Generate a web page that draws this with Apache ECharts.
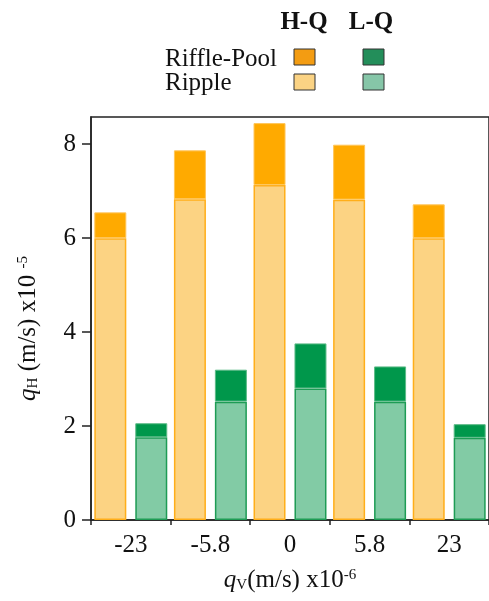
<!DOCTYPE html>
<html>
<head>
<meta charset="utf-8">
<script src="https://cdn.jsdelivr.net/npm/echarts@6/dist/echarts.min.js"></script>
<style>
  html, body { margin: 0; padding: 0; background: #fff; }
  #chart { width: 489px; height: 601px; }
</style>
</head>
<body>
<div id="chart"></div>
<script>
// values (x 1e-5 m/s)
var categories = ['-23', '-5.8', '0', '5.8', '23'];
var hqRipple = [6.0, 6.83, 7.13, 6.82, 6.0];
var hqRifflePool = [6.55, 7.87, 8.45, 7.99, 6.72];
var lqRipple = [1.76, 2.52, 2.80, 2.52, 1.75];
var lqRifflePool = [2.06, 3.2, 3.76, 3.27, 2.04];
var yTicks = [0, 2, 4, 6, 8];

var FONT = '"Liberation Serif", "DejaVu Serif", serif';

// the darker part on top of each bar is what riffle-pool adds over ripple
var hqExtra = hqRifflePool.map(function (v, i) { return +(v - hqRipple[i]).toFixed(3); });
var lqExtra = lqRifflePool.map(function (v, i) { return +(v - lqRipple[i]).toFixed(3); });

var chart = echarts.init(document.getElementById('chart'));

var legendBox = function (x, y, color) {
  return {
    type: 'rect',
    shape: { x: x, y: y, width: 21, height: 16 },
    style: { fill: color, stroke: '#333', lineWidth: 1 }
  };
};
var legendText = function (x, y, text, bold, align) {
  return {
    type: 'text',
    x: x, y: y,
    style: {
      text: text, fill: '#111',
      font: (bold ? 'bold ' : '') + '25px ' + FONT,
      align: align || 'left', verticalAlign: 'middle'
    }
  };
};

var titleRich = {
  q: { fontFamily: FONT, fontStyle: 'italic', fontSize: 25, color: '#111' },
  sub: { fontFamily: FONT, fontSize: 15, color: '#111', verticalAlign: 'bottom', padding: [10, 0, 0, 0] },
  t: { fontFamily: FONT, fontSize: 25, color: '#111' },
  sup: { fontFamily: FONT, fontSize: 15, color: '#111', verticalAlign: 'top', padding: [0, 0, 10, 0] }
};

var option = {
  animation: false,
  grid: {
    left: 91, top: 117, width: 400, height: 403,
    show: true, borderColor: '#222', borderWidth: 1.5, backgroundColor: 'transparent'
  },
  xAxis: {
    type: 'category',
    data: categories,
    name: '{q|q}{sub|V}{t|(m/s) x10}{sup|-6}',
    nameLocation: 'middle',
    nameGap: 48,
    nameTextStyle: { rich: titleRich },
    axisLine: { lineStyle: { color: '#222', width: 1.5 } },
    axisTick: { show: true, length: 5, lineStyle: { color: '#222', width: 1.5 } },
    axisLabel: { fontFamily: FONT, fontSize: 25, color: '#111', margin: 13 },
    splitLine: { show: false }
  },
  yAxis: {
    type: 'value',
    min: 0,
    max: 8.58,
    interval: 2,
    name: '{q|q}{sub|H}{t| (m/s) x10 }{sup|-5}',
    nameLocation: 'middle',
    nameGap: 50,
    nameTextStyle: { rich: titleRich, padding: [0, 20, 0, 0] },
    axisLine: { show: true, lineStyle: { color: '#222', width: 1.5 } },
    axisTick: { show: true, length: 9, customValues: yTicks, lineStyle: { color: '#222', width: 1.5 } },
    axisLabel: { fontFamily: FONT, fontSize: 25, color: '#111', margin: 15, customValues: yTicks },
    splitLine: { show: false }
  },
  series: [
    {
      name: 'H-Q Ripple', type: 'bar', stack: 'hq', data: hqRipple,
      barWidth: 32, barGap: '28%',
      itemStyle: { color: '#FCD383', borderColor: '#FFAE1A', borderWidth: 1.5 }
    },
    {
      name: 'H-Q Riffle-Pool', type: 'bar', stack: 'hq', data: hqExtra,
      barWidth: 32, barGap: '28%',
      itemStyle: { color: '#FFAA00', borderColor: '#FFC65A', borderWidth: 1 }
    },
    {
      name: 'L-Q Ripple', type: 'bar', stack: 'lq', data: lqRipple,
      barWidth: 32, barGap: '28%',
      itemStyle: { color: '#82CBA5', borderColor: '#1E9C55', borderWidth: 1.5 }
    },
    {
      name: 'L-Q Riffle-Pool', type: 'bar', stack: 'lq', data: lqExtra,
      barWidth: 32, barGap: '28%',
      itemStyle: { color: '#00974B', borderColor: '#5DBB88', borderWidth: 1 }
    }
  ],
  graphic: [
    legendText(304, 23, 'H-Q', true, 'center'),
    legendText(371, 23, 'L-Q', true, 'center'),
    legendText(165, 59, 'Riffle-Pool'),
    legendText(165, 83, 'Ripple'),
    legendBox(294, 49, '#F39C12'),
    legendBox(294, 74, '#FBD384'),
    legendBox(363, 49, '#238E5A'),
    legendBox(363, 74, '#86C6A8')
  ]
};

chart.setOption(option);
</script>
</body>
</html>
